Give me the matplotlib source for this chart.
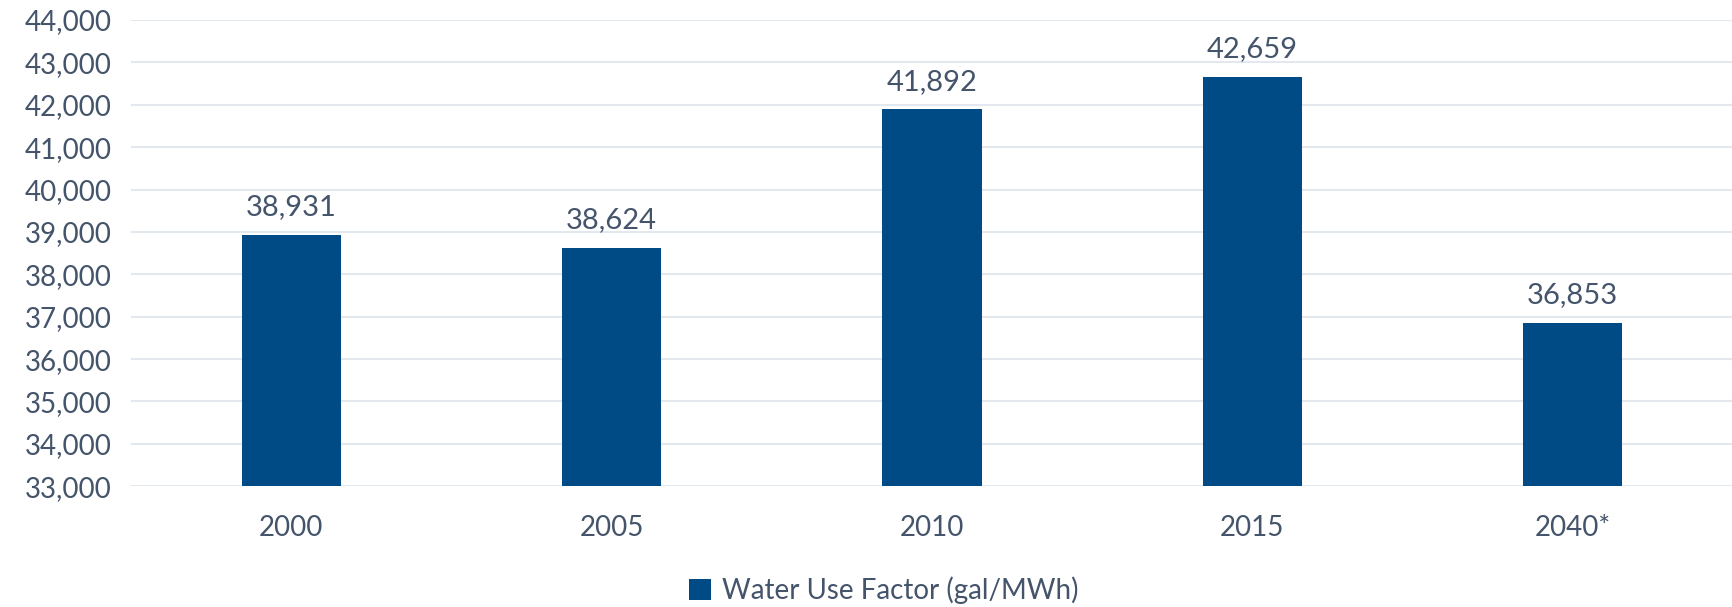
import numpy as np
import matplotlib.pyplot as plt
from matplotlib.ticker import FuncFormatter

years = ["2000", "2005", "2010", "2015", "2040*"]
water_use = [38931, 38624, 41892, 42659, 36853]
series_name = "Water Use Factor (gal/MWh)"

bar_color = "#004B85"
text_color = "#44546A"
grid_color = "#E3E8EE"

plt.rcParams['font.family'] = ['Lato', 'DejaVu Sans']

fig = plt.figure(figsize=(17.33, 6.07), dpi=100)
ax = fig.add_axes([0.0756, 0.199, 0.9244, 0.768])

x = np.arange(len(years))
bars = ax.bar(x, water_use, width=0.31, color=bar_color, label=series_name, zorder=3)

# value labels above bars
for xi, v in zip(x, water_use):
    ax.annotate(f"{v:,}", (xi, v), xytext=(0, 14), textcoords="offset points",
                ha="center", va="baseline", fontsize=21, color=text_color)

ax.set_xlim(-0.5, len(years) - 0.5)
ax.set_ylim(33000, 44000)
ax.set_yticks(np.arange(33000, 44001, 1000))
ax.yaxis.set_major_formatter(FuncFormatter(lambda v, p: f"{int(v):,}"))
ax.set_xticks(x)
ax.set_xticklabels(years)
ax.tick_params(axis="y", length=0, pad=14, labelsize=20, labelcolor=text_color)
ax.tick_params(axis="x", length=0, pad=21, labelsize=20, labelcolor=text_color)

ax.grid(axis="y", color=grid_color, linewidth=1.5, zorder=0)
for s in ax.spines.values():
    s.set_visible(False)

fig.legend(handles=[bars], labels=[series_name], loc="center", bbox_to_anchor=(0.51, 0.027),
           frameon=False, fontsize=20, labelcolor=text_color, handlelength=0.8,
           handleheight=0.8, handletextpad=0.4)

fig.savefig("out.png", dpi=100)
